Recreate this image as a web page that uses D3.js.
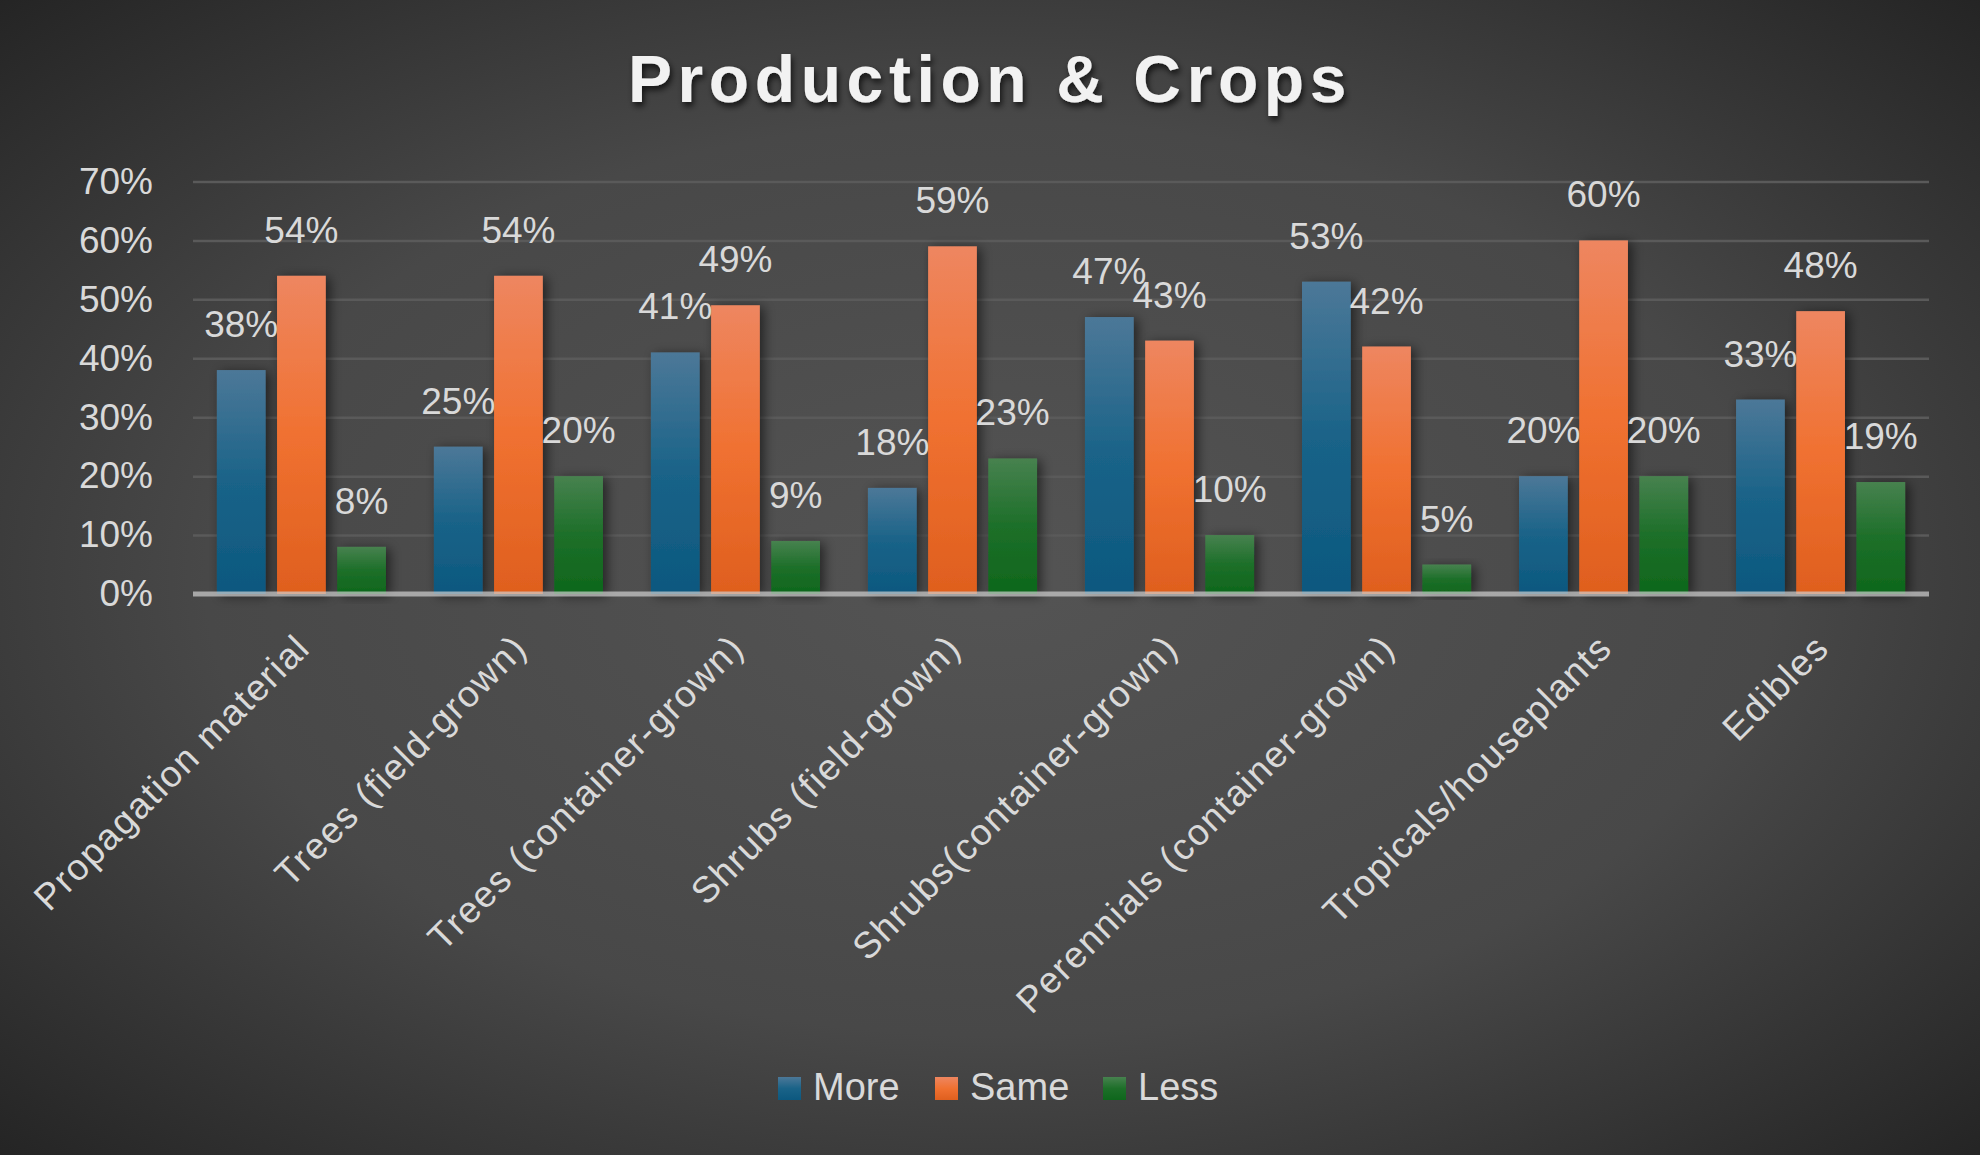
<!DOCTYPE html>
<html>
<head>
<meta charset="utf-8">
<script src="https://cdn.jsdelivr.net/npm/d3@7"></script>
<style>
  html, body { margin: 0; padding: 0; background: #2a2a2a; }
  svg { display: block; }
  text { font-family: "Liberation Sans", Arial, sans-serif; }
</style>
</head>
<body>
<svg id="chart" width="1980" height="1155"></svg>
<script>
// ---- data ----
const categories = [
  "Propagation material",
  "Trees (field-grown)",
  "Trees (container-grown)",
  "Shrubs (field-grown)",
  "Shrubs(container-grown)",
  "Perennials (container-grown)",
  "Tropicals/houseplants",
  "Edibles"
];
const seriesNames = ["More", "Same", "Less"];
const moreValues = [0.38, 0.25, 0.41, 0.18, 0.47, 0.53, 0.20, 0.33];
const sameValues = [0.54, 0.54, 0.49, 0.59, 0.43, 0.42, 0.60, 0.48];
const lessValues = [0.08, 0.20, 0.09, 0.23, 0.10, 0.05, 0.20, 0.19];
const yTicks = [0, 0.1, 0.2, 0.3, 0.4, 0.5, 0.6, 0.7];
const title = "Production & Crops";

const seriesValues = { More: moreValues, Same: sameValues, Less: lessValues };
const seriesColors = {
  More: ["#4c7898", "#1a6388", "#0c587f"],
  Same: ["#ee8660", "#f07131", "#df5f1e"],
  Less: ["#47824f", "#1d6f29", "#0e671c"]
};

const W = 1980, H = 1155;
const svg = d3.select("#chart");
const defs = svg.append("defs");

// background radial gradient
const bg = defs.append("radialGradient").attr("id", "bg")
  .attr("cx", "50%").attr("cy", "50%").attr("r", "72%");
bg.append("stop").attr("offset", "0%").attr("stop-color", "#545454");
bg.append("stop").attr("offset", "55%").attr("stop-color", "#484848");
bg.append("stop").attr("offset", "100%").attr("stop-color", "#232323");
svg.append("rect").attr("width", W).attr("height", H).attr("fill", "url(#bg)");

// bar gradients
seriesNames.forEach(s => {
  const g = defs.append("linearGradient").attr("id", "grad-" + s)
    .attr("x1", 0).attr("y1", 0).attr("x2", 0).attr("y2", 1);
  g.append("stop").attr("offset", "0%").attr("stop-color", seriesColors[s][0]);
  g.append("stop").attr("offset", "50%").attr("stop-color", seriesColors[s][1]);
  g.append("stop").attr("offset", "100%").attr("stop-color", seriesColors[s][2]);
});

// shadows
const bs = defs.append("filter").attr("id", "barShadow")
  .attr("x", "-50%").attr("y", "-20%").attr("width", "200%").attr("height", "140%");
bs.append("feDropShadow").attr("dx", 4).attr("dy", 2).attr("stdDeviation", 6)
  .attr("flood-color", "#000").attr("flood-opacity", 0.55);
const ts = defs.append("filter").attr("id", "titleShadow")
  .attr("x", "-10%").attr("y", "-30%").attr("width", "120%").attr("height", "160%");
ts.append("feDropShadow").attr("dx", 2).attr("dy", 4).attr("stdDeviation", 3)
  .attr("flood-color", "#000").attr("flood-opacity", 0.7);

// scales
const plotLeft = 193, plotRight = 1929, plotTop = 181.5, plotBottom = 594;
const x0 = d3.scaleBand().domain(categories).range([plotLeft, plotRight])
  .paddingInner(0.221).paddingOuter(0.11);
const x1 = d3.scaleBand().domain(seriesNames).range([0, x0.bandwidth()])
  .paddingInner(0.19);
const y = d3.scaleLinear().domain([0, 0.7]).range([plotBottom, plotTop]);

// title
svg.append("text")
  .attr("x", 990).attr("y", 102)
  .attr("text-anchor", "middle")
  .attr("font-size", 66).attr("font-weight", "bold")
  .attr("letter-spacing", "5.6px")
  .attr("fill", "#f2f2f2")
  .attr("filter", "url(#titleShadow)")
  .text(title);

// y axis with gridlines
const yAxis = svg.append("g")
  .attr("transform", `translate(${plotLeft},0)`)
  .call(d3.axisLeft(y).tickValues(yTicks).tickFormat(d3.format(".0%"))
    .tickSize(-(plotRight - plotLeft)).tickPadding(40));
yAxis.select(".domain").remove();
yAxis.selectAll(".tick line")
  .attr("stroke", "#5a5a5a").attr("stroke-width", 2.5)
  .attr("opacity", d => d === 0 ? 0 : 1);
yAxis.selectAll(".tick text")
  .attr("fill", "#d9d9d9").attr("font-size", 37)
  .attr("font-family", "Liberation Sans, Arial, sans-serif");

// bars
const groups = svg.append("g").selectAll("g")
  .data(categories).join("g")
  .attr("transform", d => `translate(${x0(d)},0)`);

groups.selectAll("rect")
  .data((c, i) => seriesNames.map(s => ({ s, v: seriesValues[s][i] })))
  .join("rect")
  .attr("x", d => x1(d.s))
  .attr("width", x1.bandwidth())
  .attr("y", d => y(d.v))
  .attr("height", d => y(0) - y(d.v))
  .attr("fill", d => `url(#grad-${d.s})`)
  .attr("filter", "url(#barShadow)");

// x axis baseline
svg.append("line")
  .attr("x1", plotLeft).attr("x2", plotRight)
  .attr("y1", y(0)).attr("y2", y(0))
  .attr("stroke", "#d0d0d0").attr("stroke-opacity", 0.7)
  .attr("stroke-width", 5);

// data labels
groups.selectAll("text.lbl")
  .data((c, i) => seriesNames.map(s => ({ s, v: seriesValues[s][i] })))
  .join("text").attr("class", "lbl")
  .attr("x", d => x1(d.s) + x1.bandwidth() / 2)
  .attr("y", d => y(d.v) - 33)
  .attr("text-anchor", "middle")
  .attr("font-size", 37)
  .attr("fill", "#d9d9d9")
  .text(d => d3.format(".0%")(d.v));

// x axis labels
const xAxis = svg.append("g")
  .attr("transform", `translate(0,${plotBottom})`)
  .call(d3.axisBottom(x0).tickSize(0).tickPadding(0));
xAxis.select(".domain").remove();
xAxis.selectAll(".tick text")
  .attr("y", 0).attr("dy", 0)
  .attr("text-anchor", "end")
  .attr("letter-spacing", "1.5px")
  .attr("transform", "translate(10.5,56) rotate(-45)")
  .attr("fill", "#d9d9d9").attr("font-size", 37)
  .attr("font-family", "Liberation Sans, Arial, sans-serif");

// legend
const legendPos = [778, 935, 1103];
const legend = svg.append("g");
const li = legend.selectAll("g").data(seriesNames).join("g")
  .attr("transform", (d, i) => `translate(${legendPos[i]},1077)`);
li.append("rect").attr("width", 23).attr("height", 23)
  .attr("fill", d => `url(#grad-${d})`);
li.append("text").attr("x", 35).attr("y", 23)
  .attr("font-size", 38).attr("fill", "#d9d9d9")
  .text(d => d);
</script>
</body>
</html>
